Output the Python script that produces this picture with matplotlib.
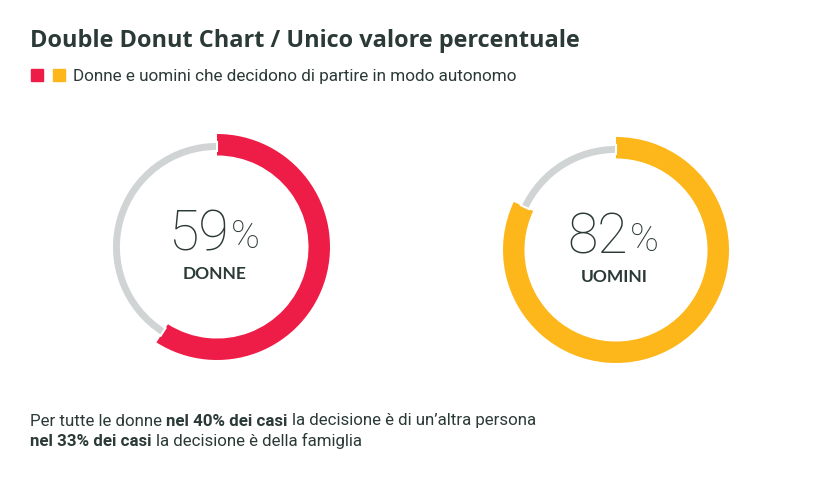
import matplotlib
matplotlib.use("Agg")
import matplotlib.pyplot as plt
from matplotlib.patches import Rectangle

W, H = 831, 480
title = "Double Donut Chart / Unico valore percentuale"
legend_label = "Donne e uomini che decidono di partire in modo autonomo"
categories = ["DONNE", "UOMINI"]
values = [59, 82]
colors = ["#EE1D47", "#FDB71B"]
grey = "#D0D4D5"
text_dark = "#2B3A37"
note_lines = [
    [("Per tutte le donne", "normal"), ("nel 40% dei casi", "bold"),
     ("la decisione è di un’altra persona", "normal")],
    [("nel 33% dei casi", "bold"), ("la decisione è della famiglia", "normal")],
]

fig = plt.figure(figsize=(W / 100, H / 100), dpi=100)
fig.patch.set_facecolor("white")

def fx(x):
    return x / W

def fy(y):
    return 1 - y / H

# Title
fig.text(fx(30), fy(41), title, fontsize=16.9, fontweight="bold", color=text_dark,
         family=["Open Sans", "DejaVu Sans"], va="center", ha="left")

# Legend
for i, c in enumerate(colors):
    fig.patches.append(Rectangle((fx(31 + 22 * i), fy(81)), 12 / W, 12 / H,
                                 transform=fig.transFigure, color=c, figure=fig))
fig.text(fx(73), fy(76), legend_label, fontsize=12.3, color=text_dark,
         family=["Roboto", "DejaVu Sans"], va="center", ha="left")

# Donuts
centers = [(217, 247), (616, 250)]
R = 113
for (cx, cy), v, c, lab in zip(centers, values, colors, categories):
    ax = fig.add_axes([fx(cx - R), fy(cy + R), 2 * R / W, 2 * R / H])
    ax.axis("off")
    w1, _ = ax.pie([v, 100 - v], colors=[c, "white"], startangle=90, counterclock=False,
                   radius=1.0, wedgeprops=dict(width=0.19, linewidth=0))
    w1[1].set_visible(False)
    w2, _ = ax.pie([v, 100 - v], colors=["white", grey], startangle=90, counterclock=False,
                   radius=0.93, wedgeprops=dict(width=0.08, edgecolor="white", linewidth=1.5))
    w2[0].set_visible(False)
    ax.set_xlim(-1, 1)
    ax.set_ylim(-1, 1)
    ax.set_aspect("equal")
    # number
    fig.text(fx(cx + 12), fy(cy - 12), f"{v}", fontsize=40, fontweight="light",
             color=text_dark, family=["Roboto", "DejaVu Sans"], ha="right", va="center")
    fig.text(fx(cx + 14), fy(cy - 10), "%", fontsize=28, fontweight="light",
             color=text_dark, family=["Roboto", "DejaVu Sans"], ha="left", va="center")
    fig.text(fx(cx - 2), fy(cy + 27), lab, fontsize=12.5, fontweight="bold",
             color=text_dark, family=["Lato", "DejaVu Sans"], ha="center", va="center")

# Notes with mixed weights
fig.canvas.draw()
renderer = fig.canvas.get_renderer()
fs = 12.2

def text_w(s, wgt):
    t = fig.text(0, 0, s, fontsize=fs, fontweight=wgt, family=["Roboto", "DejaVu Sans"])
    w = t.get_window_extent(renderer=renderer).width
    t.remove()
    return w

space_w = text_w("x x", "normal") - text_w("xx", "normal")
for li, line in enumerate(note_lines):
    x = 30
    y = 421 + 20 * li
    for s, wgt in line:
        t = fig.text(fx(x), fy(y), s, fontsize=fs, fontweight=wgt, color=text_dark,
                     family=["Roboto", "DejaVu Sans"], ha="left", va="center")
        bb = t.get_window_extent(renderer=renderer)
        x += bb.width + space_w

fig.savefig("out.png", dpi=100, facecolor="white")
